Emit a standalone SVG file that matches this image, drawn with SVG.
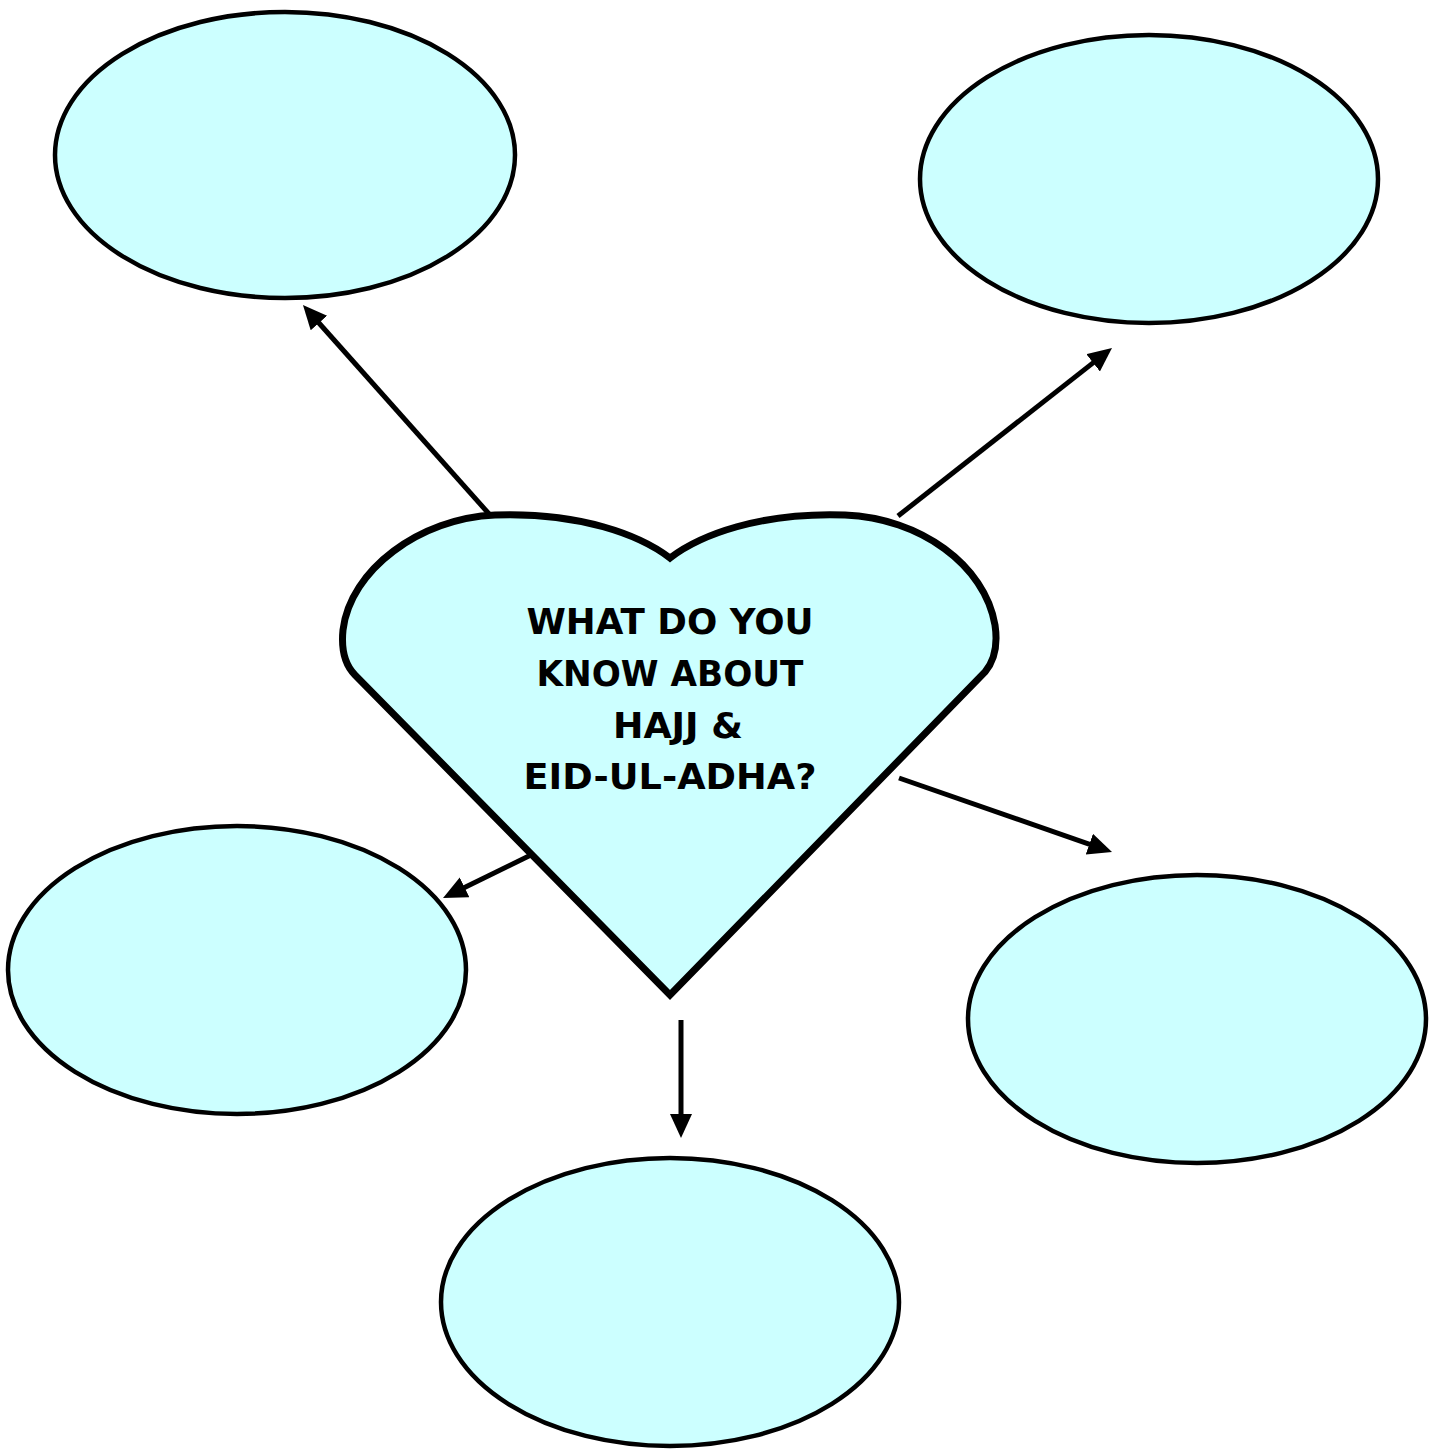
<svg xmlns="http://www.w3.org/2000/svg" width="1438" height="1451" viewBox="0 0 1438 1451">
  <style>
    .bubble { fill: #ccffff; stroke: #000; stroke-width: 4.5; }
    .heart { fill: #ccffff; stroke: #000; stroke-width: 7; stroke-linejoin: miter; }
    .conn { stroke: #000; stroke-width: 5; fill: none; marker-end: url(#arrow); }
    .label { font-family: "DejaVu Sans", "Liberation Sans", sans-serif; font-weight: bold; font-size: 35px; fill: #000; text-anchor: middle; }
  </style>
  <defs>
    <marker id="arrow" markerUnits="userSpaceOnUse" markerWidth="26" markerHeight="24" refX="8" refY="11" orient="auto">
      <path d="M0,0 L24,11 L0,22 Z" fill="#000"/>
    </marker>
  </defs>
  <rect width="1438" height="1451" fill="#fff"/>
  <g id="connectors">
    <line class="conn" x1="490" y1="515" x2="313.6" y2="317"/>
    <line class="conn" x1="898" y1="516" x2="1099.4" y2="357.9"/>
    <line class="conn" x1="535" y1="853" x2="457.4" y2="891"/>
    <line class="conn" x1="899" y1="778" x2="1096.9" y2="846.8"/>
    <line class="conn" x1="681" y1="1020" x2="681" y2="1122"/>
  </g>
  <g id="node-top-left"><ellipse class="bubble" cx="285" cy="155" rx="230" ry="143"/></g>
  <g id="node-top-right"><ellipse class="bubble" cx="1149" cy="179" rx="229" ry="144"/></g>
  <g id="node-left"><ellipse class="bubble" cx="237" cy="970" rx="229" ry="144"/></g>
  <g id="node-right"><ellipse class="bubble" cx="1197" cy="1019" rx="229" ry="144"/></g>
  <g id="node-bottom"><ellipse class="bubble" cx="670" cy="1302" rx="229" ry="144"/></g>
  <g id="node-heart">
    <path class="heart" d="M670,558 C640,535 580,512 495,515 C420,518 350,570 343,630 C341,650 345,665 355,675 L670,995 L985,672 C995,660 998,645 995,625 C985,565 920,518 845,515 C760,512 700,535 670,558 Z"/>
    <text class="label" x="670" y="634" textLength="287" lengthAdjust="spacingAndGlyphs">WHAT DO YOU</text>
    <text class="label" x="670" y="686" textLength="267" lengthAdjust="spacingAndGlyphs">KNOW ABOUT</text>
    <text class="label" x="678" y="738" textLength="130" lengthAdjust="spacingAndGlyphs">HAJJ &amp;</text>
    <text class="label" x="670" y="789" textLength="293" lengthAdjust="spacingAndGlyphs">EID-UL-ADHA?</text>
  </g>
</svg>
